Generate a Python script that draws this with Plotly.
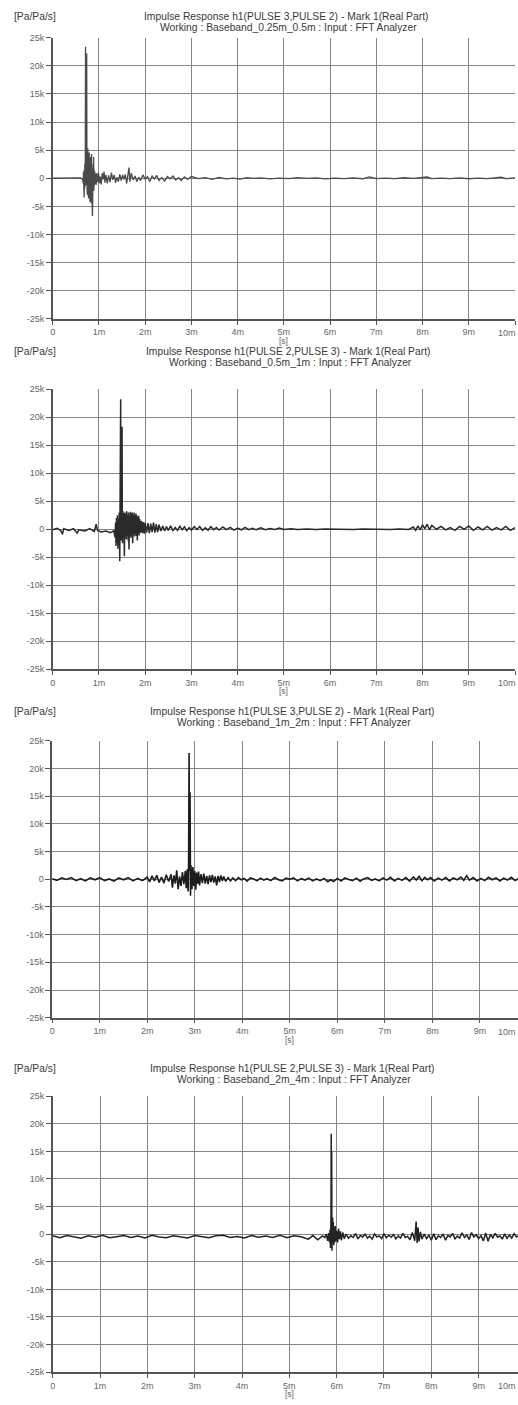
import plotly.graph_objects as go

# ---------------------------------------------------------------
# Impulse responses h1 between PULSE 2 and PULSE 3 for four
# baseband settings.  Time in ms, response in Pa/Pa/s.
# ---------------------------------------------------------------

# Baseband 0.25m - 0.5m  (h1: PULSE 3 -> PULSE 2)
t_025 = [
    0, 0.2, 0.4, 0.6, 0.65, 0.66, 0.665, 0.67, 0.675, 0.68,
    0.685, 0.69, 0.695, 0.70, 0.705, 0.71, 0.715, 0.72, 0.725, 0.73,
    0.735, 0.74, 0.745, 0.75, 0.755, 0.76, 0.765, 0.77, 0.775, 0.78,
    0.785, 0.79, 0.795, 0.80, 0.805, 0.81, 0.815, 0.82, 0.825, 0.83,
    0.835, 0.84, 0.845, 0.85, 0.855, 0.86, 0.865, 0.87, 0.875, 0.88,
    0.885, 0.89, 0.895, 0.90, 0.91, 0.92, 0.93, 0.94, 0.95, 0.97,
    0.99, 1.01, 1.03, 1.05, 1.07, 1.09, 1.11, 1.13, 1.15, 1.18,
    1.21, 1.24, 1.27, 1.30, 1.33, 1.36, 1.39, 1.42, 1.45, 1.48,
    1.51, 1.54, 1.57, 1.60, 1.63, 1.65, 1.67, 1.70, 1.74, 1.78,
    1.82, 1.86, 1.90, 1.95, 2.00, 2.05, 2.10, 2.15, 2.20, 2.25,
    2.30, 2.36, 2.42, 2.48, 2.54, 2.60, 2.66, 2.72, 2.78, 2.85,
    2.92, 3.00, 3.15, 3.30, 3.45, 3.60, 3.75, 3.90, 4.05, 4.20,
    4.35, 4.50, 4.70, 4.90, 5.10, 5.30, 5.50, 5.70, 5.90, 6.10,
    6.30, 6.50, 6.70, 6.85, 7.00, 7.20, 7.40, 7.60, 7.80, 8.00,
    8.10, 8.20, 8.40, 8.60, 8.80, 9.00, 9.20, 9.40, 9.60, 9.70,
    9.80, 10.0,
]
h_025 = [
    0, 40, -30, 60, -200, -900, 1200, -2600, 800, -3400,
    1500, -2000, 2600, -1500, 3000, 23400, 2000, 5000, -1200, 14000,
    22200, 3000, -2500, 4800, -3000, 5300, -2200, 4000, -3600, 3500,
    -1800, 4600, -3000, 2800, -4200, 3000, -2200, 3800, -3000, 2200,
    -4500, 4300, -2500, 1800, -5000, -6700, 1200, -2500, 2500, -1800,
    3800, -2200, 1600, -1300, 1200, -1000, 800, -1200, 900, -700,
    1000, -900, 300, -1100, 900, -200, 1200, -800, 600, -900,
    500, -700, 1000, -300, 600, -800, 200, -600, 700, -400,
    600, -200, 700, -900, 1200, 1900, -600, 900, -300, 400,
    -600, 200, -400, 600, -150, 300, -600, 400, -100, 500,
    -400, 150, -500, 300, -100, 400, -300, 100, -400, 250,
    -200, 300, -50, 100, -200, 150, -100, 20, -150, 100,
    -30, 80, -120, 40, -60, 100, -20, 60, -100, 30,
    -70, 60, -90, 250, -80, 20, -60, 90, -30, 60,
    220, -80, 30, -60, 80, -90, 20, -60, 90, 200,
    -60, 50,
]

# Baseband 0.5m - 1m  (h1: PULSE 2 -> PULSE 3)
t_05 = [
    0, 0.1, 0.18, 0.21, 0.24, 0.35, 0.45, 0.53, 0.56, 0.7,
    0.8, 0.9, 0.94, 0.97, 1.05, 1.15, 1.25, 1.32, 1.35, 1.36,
    1.37, 1.38, 1.39, 1.40, 1.41, 1.42, 1.43, 1.44, 1.45, 1.455,
    1.46, 1.465, 1.47, 1.475, 1.48, 1.485, 1.49, 1.495, 1.50, 1.505,
    1.51, 1.52, 1.53, 1.54, 1.55, 1.555, 1.56, 1.57, 1.58, 1.59,
    1.60, 1.61, 1.62, 1.63, 1.64, 1.65, 1.66, 1.67, 1.68, 1.69,
    1.70, 1.71, 1.72, 1.73, 1.74, 1.75, 1.76, 1.77, 1.78, 1.79,
    1.80, 1.81, 1.82, 1.83, 1.84, 1.85, 1.86, 1.87, 1.88, 1.90,
    1.92, 1.94, 1.96, 1.98, 2.00, 2.03, 2.06, 2.09, 2.12, 2.15,
    2.18, 2.21, 2.24, 2.27, 2.30, 2.34, 2.38, 2.42, 2.46, 2.50,
    2.55, 2.60, 2.65, 2.70, 2.75, 2.80, 2.85, 2.90, 2.95, 3.00,
    3.06, 3.12, 3.18, 3.24, 3.30, 3.36, 3.42, 3.48, 3.54, 3.60,
    3.68, 3.76, 3.84, 3.92, 4.00, 4.08, 4.16, 4.24, 4.32, 4.40,
    4.50, 4.60, 4.70, 4.80, 4.90, 5.00, 5.15, 5.30, 5.50, 5.70,
    5.90, 6.10, 6.30, 6.50, 6.70, 6.90, 7.10, 7.30, 7.50, 7.70,
    7.80, 7.85, 7.90, 7.95, 8.00, 8.05, 8.10, 8.15, 8.20, 8.30,
    8.40, 8.50, 8.60, 8.70, 8.80, 8.90, 9.00, 9.10, 9.20, 9.30,
    9.40, 9.50, 9.60, 9.70, 9.80, 9.90, 10.0,
]
h_05 = [
    -100, 150, -300, -900, 100, -200, 100, -700, -100, -300,
    100, -400, 900, -200, -500, -300, -600, -300, -1500, 1200,
    -3000, 2000, -2500, 2500, -3500, 1800, -2800, 3000, -5700, 2000,
    -3000, 4000, 23200, 3000, 5800, -2000, 4500, -1500, 18300, 3000,
    -2500, 3200, -1500, 2800, -4800, -3000, 3000, -1000, 2800, -1800,
    3200, -1200, 2600, -2000, 3000, -3600, 2400, -1000, 3100, -1500,
    2800, -1200, 3000, -2500, 2600, -800, 3000, -1300, 2500, -900,
    2800, -1200, 2500, -2000, 2200, -700, 2400, -1100, 1800, -600,
    1500, -700, 1300, -800, 1200, -600, 1100, -700, 1000, -500,
    1200, -600, 900, -500, 800, -300, 600, -300, 500, -200,
    600, -250, 300, -200, 550, -100, 450, -250, 300, -150,
    450, -50, 500, -200, 250, -150, 450, -100, 300, -150,
    400, -50, 350, -150, 200, -100, 350, -80, 150, -100,
    250, -80, 150, -60, 200, -50, 100, -40, 60, -30,
    50, -20, 40, -30, 50, -20, 40, -30, 60, -50,
    400, -200, 600, -100, 800, 100, 900, -100, 700, 0,
    500, -100, 300, -200, 500, 0, 600, -200, 400, -100,
    500, -150, 300, -100, 500, -200, 300,
]

# Baseband 1m - 2m  (h1: PULSE 3 -> PULSE 2)
t_1 = [
    0, 0.1, 0.2, 0.3, 0.4, 0.5, 0.6, 0.7, 0.8, 0.9,
    1.0, 1.1, 1.2, 1.3, 1.4, 1.5, 1.6, 1.7, 1.8, 1.9,
    2.0, 2.05, 2.1, 2.15, 2.2, 2.25, 2.3, 2.35, 2.4, 2.45,
    2.5, 2.53, 2.56, 2.59, 2.62, 2.65, 2.68, 2.71, 2.74, 2.77,
    2.80, 2.82, 2.84, 2.86, 2.87, 2.88, 2.89, 2.90, 2.91, 2.92,
    2.94, 2.96, 2.98, 3.00, 3.02, 3.04, 3.06, 3.08, 3.10, 3.13,
    3.16, 3.19, 3.22, 3.25, 3.28, 3.31, 3.34, 3.37, 3.40, 3.43,
    3.46, 3.49, 3.52, 3.55, 3.58, 3.61, 3.65, 3.70, 3.75, 3.80,
    3.86, 3.92, 3.98, 4.04, 4.10, 4.17, 4.24, 4.31, 4.38, 4.45,
    4.52, 4.60, 4.68, 4.76, 4.84, 4.92, 5.00, 5.08, 5.16, 5.24,
    5.32, 5.40, 5.48, 5.56, 5.64, 5.72, 5.80, 5.86, 5.92, 6.00,
    6.08, 6.16, 6.24, 6.32, 6.40, 6.48, 6.56, 6.64, 6.72, 6.80,
    6.88, 6.96, 7.04, 7.12, 7.20, 7.28, 7.36, 7.44, 7.52, 7.60,
    7.66, 7.72, 7.78, 7.84, 7.90, 7.96, 8.04, 8.12, 8.20, 8.28,
    8.36, 8.44, 8.52, 8.60, 8.66, 8.72, 8.78, 8.86, 8.94, 9.02,
    9.10, 9.18, 9.26, 9.34, 9.42, 9.50, 9.58, 9.66, 9.74, 9.82,
    9.90, 10.0,
]
h_1 = [
    100, -200, 250, -50, 300, -250, 100, -300, 250, -100,
    300, -250, 50, -350, 250, -100, 300, -300, 150, -250,
    400, -500, 600, -300, 700, -600, 400, -700, 800, -400,
    900, -1500, 700, -800, 1600, -1800, 500, -1200, 1300, -900,
    1500, -1600, 1800, -2200, 3000, 22800, 1500, 15700, -3000, 2500,
    -1800, 2200, -1200, 1500, -1900, 1200, -800, 1400, -1100, 900,
    -700, 1000, -800, 600, -900, 700, -500, 800, -600, 500,
    -1100, 600, -500, 700, -300, 500, -400, 300, -300, 250,
    -250, 300, -100, 150, -350, 250, 50, -300, 200, -150,
    100, -250, 300, -100, -300, 200, 0, 250, -300, 100,
    -150, 200, -300, 50, -250, 150, -450, -100, -400, 150,
    -300, 250, -50, -250, 200, -350, 100, 300, -200, 50,
    -300, 250, -150, 350, -300, 150, -200, 300, -350, 400,
    -150, 500, -250, 350, -100, 300, -300, 200, -150, 300,
    -300, 250, -100, 400, -200, 650, -150, 300, -300, 150,
    -250, 350, -100, 250, -300, 200, -150, 350, -250, 200,
    -150, 150,
]

# Baseband 2m - 4m  (h1: PULSE 2 -> PULSE 3)
t_2 = [
    0, 0.15, 0.3, 0.45, 0.6, 0.75, 0.9, 1.05, 1.2, 1.35,
    1.5, 1.65, 1.8, 1.95, 2.1, 2.25, 2.4, 2.55, 2.7, 2.85,
    3.0, 3.15, 3.3, 3.45, 3.6, 3.75, 3.9, 4.05, 4.2, 4.35,
    4.5, 4.65, 4.8, 4.95, 5.1, 5.25, 5.4, 5.5, 5.6, 5.7,
    5.75, 5.78, 5.81, 5.83, 5.85, 5.86, 5.87, 5.88, 5.885, 5.89,
    5.895, 5.90, 5.905, 5.91, 5.915, 5.92, 5.93, 5.94, 5.95, 5.96,
    5.97, 5.98, 6.00, 6.02, 6.04, 6.06, 6.08, 6.10, 6.13, 6.16,
    6.20, 6.25, 6.30, 6.35, 6.40, 6.45, 6.50, 6.55, 6.60, 6.65,
    6.70, 6.75, 6.80, 6.85, 6.90, 6.95, 7.00, 7.05, 7.10, 7.15,
    7.20, 7.25, 7.30, 7.35, 7.40, 7.45, 7.50, 7.55, 7.60, 7.65,
    7.68, 7.70, 7.72, 7.74, 7.77, 7.80, 7.85, 7.90, 7.95, 8.00,
    8.05, 8.10, 8.15, 8.20, 8.25, 8.30, 8.35, 8.40, 8.45, 8.50,
    8.55, 8.60, 8.65, 8.70, 8.75, 8.80, 8.85, 8.90, 8.95, 9.00,
    9.05, 9.10, 9.15, 9.20, 9.25, 9.30, 9.35, 9.40, 9.45, 9.50,
    9.55, 9.60, 9.65, 9.70, 9.75, 9.80, 9.85, 9.90, 9.95, 10.0,
]
h_2 = [
    -300, -650, -250, -500, -750, -300, -550, -200, -650, -450,
    -250, -600, -350, -700, -200, -500, -650, -300, -550, -700,
    -250, -500, -650, -300, -200, -600, -400, -700, -250, -550,
    -350, -600, -200, -650, -300, -450, -900, -250, -1000, -300,
    -600, 0, -1200, 200, -1500, 800, -2500, 3000, 18200, 2000,
    15000, -3000, 1000, -2600, 3000, -1500, 2200, -2000, 1200, -1500,
    1500, -1200, 600, -1500, 1000, -900, 500, -1100, 300, -800,
    0, -750, -300, -600, 100, -850, -250, -500, 0, -700,
    -350, -900, 50, -500, -300, -800, 100, -650, -200, -550,
    -50, -850, -300, -700, 150, -600, -400, -1000, 300, -1200,
    2300, -1600, 1200, -1300, 400, -900, 0, -800, -200, -1100,
    100, -1000, -300, -600, 50, -1100, -200, -500, 150, -850,
    -350, -700, 250, -600, -150, -950, 300, -500, -100, -800,
    -250, -1200, 200, -1300, -50, -650, 150, -550, -300, -900,
    50, -750, -150, -700, 100, -500, -300, -850, 0, -450,
]

# Panel headings
titles = [
    "Impulse Response h1(PULSE 3,PULSE 2) - Mark 1(Real Part)",
    "Impulse Response h1(PULSE 2,PULSE 3) - Mark 1(Real Part)",
    "Impulse Response h1(PULSE 3,PULSE 2) - Mark 1(Real Part)",
    "Impulse Response h1(PULSE 2,PULSE 3) - Mark 1(Real Part)",
]
subtitles = [
    "Working : Baseband_0.25m_0.5m : Input : FFT Analyzer",
    "Working : Baseband_0.5m_1m : Input : FFT Analyzer",
    "Working : Baseband_1m_2m : Input : FFT Analyzer",
    "Working : Baseband_2m_4m : Input : FFT Analyzer",
]
y_unit = "[Pa/Pa/s]"
x_unit = "[s]"

# Axis ticks
y_tickvals = [25000, 20000, 15000, 10000, 5000, 0, -5000, -10000, -15000, -20000, -25000]
y_ticktext = ["25k", "20k", "15k", "10k", "5k", "0", "-5k", "-10k", "-15k", "-20k", "-25k"]
x_tickvals = [0, 1, 2, 3, 4, 5, 6, 7, 8, 9, 10]
x_ticktext = ["0", "1m", "2m", "3m", "4m", "5m", "6m", "7m", "8m", "9m", "10m"]

series = [(t_025, h_025), (t_05, h_05), (t_1, h_1), (t_2, h_2)]

# ---------------------------------------------------------------
# Page geometry (pixels)
# ---------------------------------------------------------------
W, H = 518, 1405
# plot box: left px of t=0, px per ms, top px (25k), bottom px (-25k),
# heading line positions and heading centre
boxes = [
    dict(x0=50.0, pxms=46.5, top=33, bot=316, t1=12, t2=23, tx=285),
    dict(x0=50.0, pxms=46.5, top=387, bot=669, t1=349, t2=360, tx=287),
    dict(x0=49.5, pxms=47.8, top=741, bot=1020, t1=712, t2=723, tx=291),
    dict(x0=50.0, pxms=47.6, top=1099, bot=1377, t1=1071, t2=1082, tx=291),
]
trace_colors = ["#4a4a4a", "#2a2a2a", "#1c1c1c", "#232323"]
trace_widths = [1.3, 1.5, 1.6, 1.5]

GRID = "#858585"
AXIS = "#555555"
TICKFONT = dict(family="Liberation Sans, Arial, sans-serif", size=9, color="#666666")
UNITFONT = dict(family="Liberation Sans, Arial, sans-serif", size=8.5, color="#666666")
TITLEFONT = dict(family="Liberation Sans, Arial, sans-serif", size=10.3, color="#3a3a3a")


def px_x(v):
    return v / W


def px_y(v):
    return 1 - v / H


fig = go.Figure()
annotations = []
layout = {}

for i, ((t, h), b, col, lw) in enumerate(
        zip(series, boxes, trace_colors, trace_widths), start=1):
    xr = min(10.0, (W - b["x0"]) / b["pxms"])
    x_right = b["x0"] + xr * b["pxms"]
    fig.add_trace(go.Scatter(
        x=t, y=h, mode="lines",
        line=dict(color=col, width=lw),
        xaxis=f"x{i}", yaxis=f"y{i}",
        showlegend=False, hoverinfo="skip",
    ))
    layout[f"xaxis{i}"] = dict(
        domain=[px_x(b["x0"]), px_x(x_right)],
        range=[0, xr], anchor=f"y{i}",
        tickmode="array", tickvals=x_tickvals,
        ticktext=x_ticktext[:-1] + [""],
        showgrid=True, gridcolor=GRID, gridwidth=1,
        showline=True, linecolor=AXIS, linewidth=1.5,
        ticks="outside", ticklen=4, tickcolor=AXIS, tickwidth=1,
        tickfont=TICKFONT, zeroline=False, fixedrange=True,
    )
    layout[f"yaxis{i}"] = dict(
        domain=[px_y(b["bot"]), px_y(b["top"])],
        range=[-25000, 25000], anchor=f"x{i}",
        tickmode="array", tickvals=y_tickvals, ticktext=y_ticktext,
        showgrid=True, gridcolor=GRID, gridwidth=1,
        showline=True, linecolor=AXIS, linewidth=1.5,
        ticks="outside", ticklen=5, tickcolor=AXIS, tickwidth=1,
        tickfont=TICKFONT, zeroline=False, fixedrange=True,
    )
    # last time label, kept inside the right edge
    annotations.append(dict(
        xref="paper", yref="paper",
        x=px_x(W - 1), y=px_y(b["bot"] + 8),
        text=x_ticktext[-1], showarrow=False, xanchor="right", yanchor="top",
        font=TICKFONT, borderpad=0,
    ))
    # time unit under the 5m label
    annotations.append(dict(
        xref="paper", yref="paper",
        x=px_x(b["x0"] + 5 * b["pxms"]), y=px_y(b["bot"] + 16),
        text=x_unit, showarrow=False, xanchor="center", yanchor="top",
        font=UNITFONT, borderpad=0,
    ))
    # response unit, top left
    annotations.append(dict(
        xref="paper", yref="paper",
        x=px_x(10), y=px_y(b["t1"]),
        text=y_unit, showarrow=False, xanchor="left", yanchor="middle",
        font=TITLEFONT, borderpad=0,
    ))
    annotations.append(dict(
        xref="paper", yref="paper",
        x=px_x(b["tx"]), y=px_y(b["t1"]),
        text=titles[i - 1], showarrow=False, xanchor="center", yanchor="middle",
        font=TITLEFONT, borderpad=0,
    ))
    annotations.append(dict(
        xref="paper", yref="paper",
        x=px_x(b["tx"] + 2), y=px_y(b["t2"]),
        text=subtitles[i - 1], showarrow=False, xanchor="center", yanchor="middle",
        font=TITLEFONT, borderpad=0,
    ))

fig.update_layout(
    width=W, height=H, autosize=False,
    margin=dict(l=0, r=0, t=0, b=0, pad=0),
    paper_bgcolor="white", plot_bgcolor="white",
    annotations=annotations,
    **layout,
)

fig.write_html("out.html", config={"displayModeBar": False})
